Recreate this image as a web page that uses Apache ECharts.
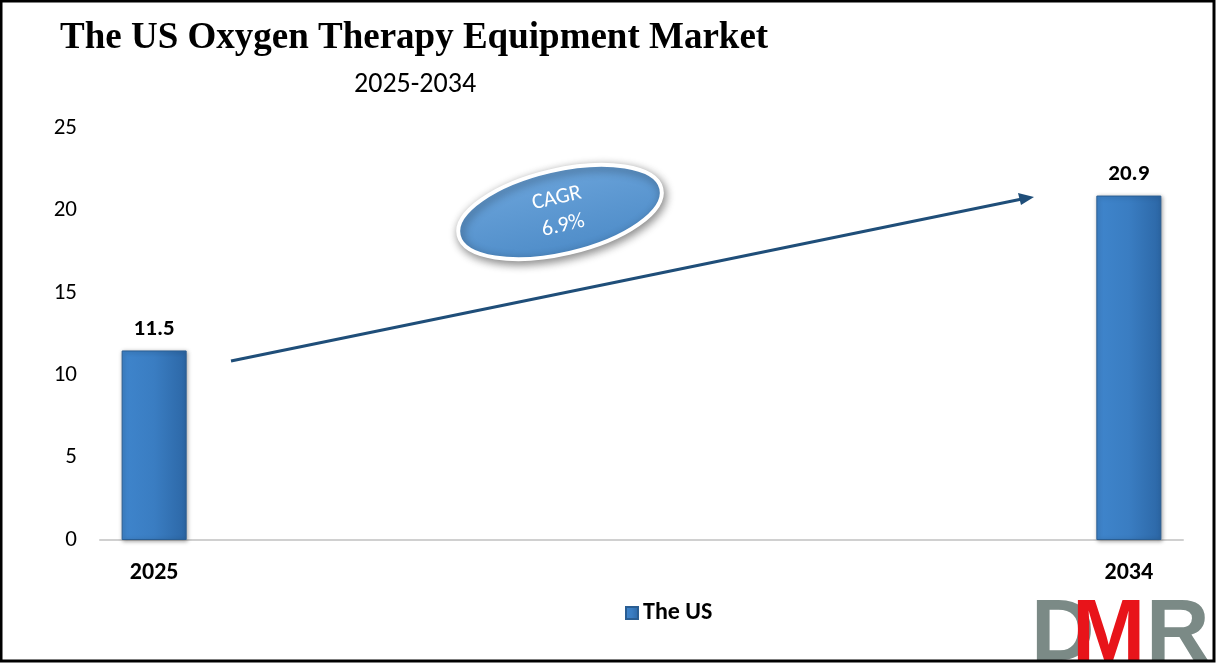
<!DOCTYPE html>
<html><head><meta charset="utf-8">
<script src="https://cdn.jsdelivr.net/npm/echarts@6/dist/echarts.min.js"></script>
<style>html,body{margin:0;padding:0;background:#fff}#c{width:1216px;height:663px}</style>
</head><body><div id="c"></div>
<script>
const categories = ['2025','2026','2027','2028','2029','2030','2031','2032','2033','2034'];
const usValues = [11.5, null, null, null, null, null, null, null, null, 20.9];
const seriesName = 'The US';
const yTicks = {min: 0, max: 25, interval: 5};
const titleText = 'The US Oxygen Therapy Equipment Market';
const subtitleText = '2025-2034';
const cagrText = 'CAGR\n6.9%';

const chart = echarts.init(document.getElementById('c'), null, {renderer: 'canvas'});
const sans = 'Carlito, Lato, "Noto Sans", sans-serif';
const barGrad = new echarts.graphic.LinearGradient(0, 0, 1, 0, [
  {offset: 0, color: '#3f85cc'},
  {offset: 0.5, color: '#3a7dc2'},
  {offset: 1, color: '#2c67a6'}
]);
chart.setOption({
  backgroundColor: '#fff',
  animation: false,
  title: [
    {text: titleText, left: 55, top: 15, textStyle: {fontFamily: '"Liberation Serif", "Times New Roman", serif', fontWeight: 'bold', fontSize: 37, color: '#000'}},
    {text: subtitleText, left: 349, top: 66, textStyle: {fontFamily: sans, fontWeight: 'normal', fontSize: 28, color: '#000'}}
  ],
  grid: {left: 100, right: 33, top: 128, bottom: 123, containLabel: false},
  legend: {
    data: [seriesName], bottom: 33, left: 620, itemWidth: 12, itemHeight: 12, itemGap: 7, icon: 'rect',
    textStyle: {fontFamily: sans, fontWeight: 'bold', fontSize: 24, color: '#000'}
  },
  xAxis: {
    type: 'category', data: categories,
    axisLine: {lineStyle: {color: '#d0d0d0', width: 2}},
    axisTick: {show: false},
    axisLabel: {
      interval: function (i) { return i === 0 || i === categories.length - 1; },
      margin: 21, fontFamily: sans, fontWeight: 'bold', fontSize: 24, color: '#000'
    }
  },
  yAxis: {
    type: 'value', min: yTicks.min, max: yTicks.max, interval: yTicks.interval,
    axisLine: {show: false}, axisTick: {show: false},
    splitLine: {show: false},
    axisLabel: {margin: 23, fontFamily: sans, fontSize: 23, color: '#000'}
  },
  series: [{
    name: seriesName, type: 'bar', data: usValues, barWidth: 65,
    itemStyle: {color: barGrad, borderColor: '#2a5e93', borderWidth: 1,
      shadowColor: 'rgba(0,0,0,0.35)', shadowBlur: 4, shadowOffsetX: 1, shadowOffsetY: 1},
    label: {show: true, position: 'top', distance: 10, fontFamily: sans, fontWeight: 'bold', fontSize: 23, color: '#000'}
  }],
  graphic: [
    {type: 'rect', shape: {x: 1, y: 1, width: 1213, height: 660}, style: {fill: 'none', stroke: '#000', lineWidth: 3}, z: 100},
    {type: 'line', shape: {x1: 231, y1: 361, x2: 1022, y2: 199}, style: {stroke: '#1f4e79', lineWidth: 3}, z: 10},
    {type: 'polygon', shape: {points: [[1034, 197], [1018, 193], [1021, 205]]}, style: {fill: '#1f4e79'}, z: 10},
    {type: 'group', x: 560, y: 212, rotation: 13 * Math.PI / 180, z: 20, children: [
      {type: 'ellipse', shape: {cx: 0, cy: 0, rx: 104, ry: 42},
        style: {fill: new echarts.graphic.LinearGradient(0, 0, 0, 1, [{offset: 0, color: '#6aa3da'}, {offset: 1, color: '#4e8cc8'}]),
          stroke: '#fff', lineWidth: 4, shadowColor: 'rgba(0,0,0,0.45)', shadowBlur: 10, shadowOffsetX: 2, shadowOffsetY: 3}},
      {type: 'text', style: {text: cagrText, x: 0, y: 0, align: 'center', verticalAlign: 'middle', fill: '#fff', fontFamily: sans, fontSize: 22, lineHeight: 28}}
    ]},
    {type: 'text', x: 1031, y: 592, style: {text: 'D', fill: '#7b8a86', fontFamily: '"Liberation Sans", Arial, sans-serif', fontWeight: 'bold', fontSize: 88}, z: 30},
    {type: 'text', x: 1072, y: 592, style: {text: 'M', fill: '#e8141a', fontFamily: '"Liberation Sans", Arial, sans-serif', fontWeight: 'bold', fontSize: 88}, z: 31},
    {type: 'text', x: 1146, y: 592, style: {text: 'R', fill: '#7b8a86', fontFamily: '"Liberation Sans", Arial, sans-serif', fontWeight: 'bold', fontSize: 88}, z: 30}
  ]
});
</script></body></html>
